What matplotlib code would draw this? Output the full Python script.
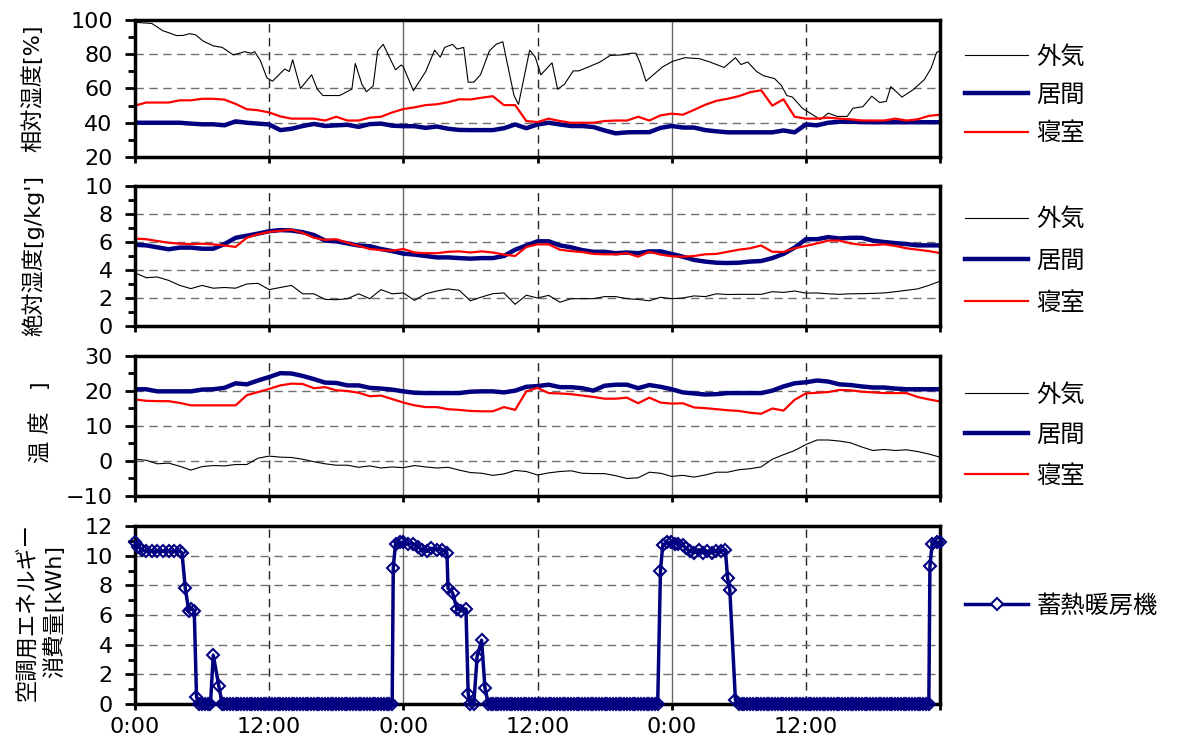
import matplotlib
matplotlib.use("Agg")
import matplotlib.pyplot as plt
import numpy as np
from matplotlib.ticker import MultipleLocator
from matplotlib.lines import Line2D

plt.rcParams['font.family'] = ['DejaVu Sans', 'Noto Sans CJK JP']

# hourly samples: 0:00 day 1 .. 0:00 day 4
hours = np.arange(0, 73)

# --- relative humidity [%] ---
# outdoor RH read at irregular times (it is spiky)
rh_out_h = [0.0, 0.3, 1.5, 2.5, 3.1, 3.7, 4.3, 4.9, 5.4, 6.1,
            7.0, 7.8, 8.8, 9.8, 10.4, 10.7, 11.2, 11.8, 12.3, 13.4,
            13.8, 14.1, 14.8, 15.8, 16.3, 16.8, 18.3, 19.4, 19.7, 20.3,
            20.7, 21.3, 21.7, 22.2, 23.3, 23.8, 24.0, 24.9, 26.0, 26.8,
            27.3, 27.7, 28.4, 28.8, 29.4, 29.8, 30.3, 30.9, 31.7, 32.3,
            32.9, 33.3, 33.9, 34.3, 35.3, 35.8, 36.3, 37.3, 37.8, 38.4,
            39.2, 39.7, 40.6, 41.6, 42.5, 43.5, 44.4, 44.8, 45.2, 45.7,
            47.2, 48.1, 49.2, 50.5, 51.4, 52.7, 53.7, 54.2, 54.8, 55.6,
            56.2, 57.2, 57.8, 58.3, 58.8, 59.7, 61.3, 62.0, 62.8, 63.7,
            64.2, 65.1, 65.9, 66.6, 67.2, 67.6, 68.6, 69.6, 70.6, 71.2,
            71.7, 72.0]
rh_out = [99, 98.5, 98, 93.7, 92.4, 90.9, 91, 92, 91.4, 87.7,
          84.9, 84, 79.6, 81.5, 80.6, 81.5, 76.5, 66.2, 64.3, 71.4,
          69.9, 76.8, 60, 68, 59.6, 55.9, 55.9, 59.6, 74.6, 62.4,
          58.1, 61.5, 82, 85.8, 70.9, 73.7, 72.7, 58.7, 69.9, 82.4,
          78.3, 84, 85.8, 83, 84, 63.7, 63.7, 68, 82, 85.8,
          87.3, 74.6, 55.9, 50.7, 82.4, 78.3, 68, 75, 59.6, 62.4,
          70.3, 70.3, 72.7, 75.5, 79.3, 79.6, 80.6, 80.6, 74.6, 64.3,
          72.7, 75.9, 78, 77.4, 75.5, 72.3, 78, 74, 75.5, 69.9,
          67.5, 65.8, 61.9, 55.9, 55, 48.4, 41.9, 45.6, 43.7, 43.7,
          48.4, 49.4, 55.5, 51.8, 52.5, 61.1, 55, 59.3, 65.2, 71.8,
          81.1, 82]
rh_liv = [40, 40, 40, 40, 40, 39.5, 39.1, 39.1, 38.5, 40.8, 40, 39.5,
          39, 35.7, 36.5, 38.1, 39.3, 38.1, 38.5, 38.8, 37.6, 39.2, 39.5, 38.3,
          38, 38, 37, 37.8, 36.5, 35.8, 35.7, 35.7, 35.7, 36.8, 39, 36.8,
          39, 40, 39, 38.1, 38.1, 37.5, 35.5, 33.8, 34.4, 34.5, 34.5, 37,
          38.1, 37.2, 37.2, 35.7, 35, 34.4, 34.4, 34.4, 34.4, 34.4, 35.5, 34.4,
          39, 38.5, 40, 40.6, 40.6, 40.4, 40.3, 40.3, 40.3, 40.3, 40.3, 40.3,
          40.3]
rh_bed = [50, 51.8, 51.8, 51.8, 53.1, 53.1, 54, 54, 53.5, 51, 47.9, 47.3,
          46, 43.7, 42.4, 42.4, 42.4, 41.3, 43.5, 41.3, 41.3, 43, 43.5, 46,
          48, 49, 50.3, 50.8, 52, 53.7, 53.6, 54.6, 55.5, 50.3, 50.3, 41,
          40.4, 42.4, 41, 40, 40, 40, 41, 41.3, 41.3, 43.5, 41.3, 44.3,
          45.3, 44.7, 47.5, 50.5, 52.8, 54, 55.5, 57.8, 59, 50, 53.7, 43.5,
          42.4, 42.4, 43, 42.4, 42, 41.3, 41.3, 41.3, 42.4, 41.3, 42, 44,
          44.7]

# --- absolute humidity [g/kg'] ---
ah_out = [3.8, 3.45, 3.5, 3.26, 2.9, 2.67, 2.9, 2.7, 2.75, 2.7, 3.0, 3.05,
          2.6, 2.75, 2.9, 2.3, 2.3, 1.9, 1.88, 1.95, 2.3, 1.95, 2.6, 2.3,
          2.36, 1.83, 2.3, 2.5, 2.65, 2.55, 1.8, 2.07, 2.31, 2.36, 1.55, 2.2,
          2.0, 2.19, 1.7, 1.95, 1.95, 1.95, 2.1, 2.1, 1.95, 1.9, 1.8, 2.05,
          1.95, 2.0, 2.15, 2.1, 2.3, 2.25, 2.26, 2.26, 2.26, 2.45, 2.4, 2.5,
          2.35, 2.36, 2.3, 2.26, 2.3, 2.31, 2.33, 2.36, 2.45, 2.55, 2.65, 2.9,
          3.2]
ah_liv = [5.8, 5.76, 5.62, 5.48, 5.6, 5.6, 5.52, 5.52, 5.85, 6.3, 6.45, 6.6,
          6.77, 6.85, 6.82, 6.7, 6.5, 6.1, 6.05, 5.9, 5.75, 5.7, 5.5, 5.35,
          5.17, 5.1, 5.0, 4.9, 4.9, 4.85, 4.81, 4.85, 4.85, 5.0, 5.45, 5.75,
          6.05, 6.05, 5.76, 5.62, 5.42, 5.3, 5.3, 5.2, 5.25, 5.2, 5.33, 5.33,
          5.15, 4.95, 4.72, 4.6, 4.52, 4.5, 4.52, 4.6, 4.64, 4.85, 5.15, 5.6,
          6.2, 6.2, 6.35, 6.25, 6.3, 6.3, 6.1, 6.0, 5.92, 5.85, 5.76, 5.76,
          5.76]
ah_bed = [6.24, 6.2, 6.07, 5.95, 5.88, 5.85, 5.88, 5.83, 5.75, 5.65, 6.3, 6.55,
          6.72, 6.8, 6.88, 6.65, 6.3, 6.15, 6.2, 5.95, 5.72, 5.5, 5.42, 5.38,
          5.5, 5.25, 5.2, 5.2, 5.3, 5.33, 5.25, 5.33, 5.25, 5.1, 5.0, 5.65,
          5.83, 5.83, 5.45, 5.35, 5.28, 5.15, 5.12, 5.12, 5.2, 4.95, 5.3, 5.1,
          4.98, 4.95, 5.0, 5.12, 5.15, 5.3, 5.45, 5.55, 5.75, 5.3, 5.29, 5.55,
          5.72, 5.9, 6.1, 6.1, 5.9, 5.8, 5.78, 5.83, 5.72, 5.55, 5.45, 5.35,
          5.21]

# --- temperature ---
t_out = [0.5, 0.2, -0.8, -0.6, -1.5, -2.6, -1.6, -1.3, -1.4, -1.0, -1.0, 0.8,
         1.4, 1.1, 1.0, 0.5, -0.2, -0.8, -1.2, -1.2, -1.8, -1.4, -2.0, -1.7,
         -1.9, -1.3, -1.7, -2.0, -1.8, -2.6, -3.3, -3.5, -4.1, -3.7, -2.7, -3.0,
         -4.0, -3.4, -3.0, -2.8, -3.5, -3.6, -3.6, -4.2, -5.0, -4.8, -3.2, -3.5,
         -4.4, -4.1, -4.6, -4.0, -3.2, -3.2, -2.5, -2.2, -1.7, 0.5, 1.8, 3.0,
         4.7, 6.0, 6.0, 5.7, 5.2, 4.0, 3.0, 3.3, 3.0, 3.2, 2.7, 2.0,
         1.1]
t_liv = [20.5, 20.5, 19.9, 19.9, 19.9, 19.9, 20.4, 20.5, 20.9, 22.2, 21.9, 23.0,
         24.0, 25.1, 25.0, 24.3, 23.4, 22.4, 22.3, 21.6, 21.6, 20.9, 20.7, 20.4,
         19.9, 19.5, 19.4, 19.4, 19.4, 19.4, 19.8, 19.9, 19.9, 19.6, 20.1, 21.2,
         21.4, 21.8, 21.1, 21.1, 20.8, 20.1, 21.5, 21.8, 21.8, 20.8, 21.7, 21.2,
         20.5, 19.6, 19.3, 19.0, 19.1, 19.4, 19.4, 19.4, 19.4, 20.1, 21.3, 22.2,
         22.5, 23.0, 22.7, 21.9, 21.7, 21.3, 21.0, 21.0, 20.7, 20.5, 20.5, 20.5,
         20.5]
t_bed = [17.6, 17.2, 17.1, 17.1, 16.6, 15.9, 15.9, 15.9, 15.9, 15.9, 18.8, 19.7,
         20.6, 21.6, 22.1, 22.0, 20.8, 21.1, 20.2, 20.0, 19.5, 18.5, 18.7, 17.7,
         16.7, 15.9, 15.4, 15.4, 14.8, 14.6, 14.3, 14.2, 14.2, 15.4, 14.6, 19.9,
         20.9, 19.4, 19.3, 19.1, 18.7, 18.3, 17.8, 17.8, 18.1, 16.5, 18.1, 16.7,
         16.4, 16.5, 15.3, 15.1, 14.8, 14.5, 14.3, 13.8, 13.5, 15.0, 14.4, 17.5,
         19.3, 19.5, 19.7, 20.3, 20.2, 19.8, 19.6, 19.4, 19.4, 19.4, 18.3, 17.6,
         17.0]

# --- storage heater energy [kWh], 15 min logging while off ---
energy_h = [0.0, 0.3, 0.6, 1.0, 1.5, 2.0, 2.5, 3.0, 3.5, 4.0, 4.2, 4.5,
            4.8, 5.0, 5.3, 5.5, 5.7, 6.0, 6.25, 6.5, 6.75, 7.0, 7.5, 7.8,
            8.0, 8.25, 8.5, 8.75, 9.0, 9.25, 9.5, 9.75, 10.0, 10.25, 10.5, 10.75,
            11.0, 11.25, 11.5, 11.75, 12.0, 12.25, 12.5, 12.75, 13.0, 13.25, 13.5, 13.75,
            14.0, 14.25, 14.5, 14.75, 15.0, 15.25, 15.5, 15.75, 16.0, 16.25, 16.5, 16.75,
            17.0, 17.25, 17.5, 17.75, 18.0, 18.25, 18.5, 18.75, 19.0, 19.25, 19.5, 19.75,
            20.0, 20.25, 20.5, 20.75, 21.0, 21.25, 21.5, 21.75, 22.0, 22.25, 22.5, 22.75,
            23.0, 23.1, 23.3, 23.7, 24.0, 24.4, 24.9, 25.3, 25.7, 26.1, 26.5, 27.0,
            27.5, 27.9, 28.0, 28.4, 28.8, 29.2, 29.6, 29.8, 30.0, 30.3, 30.6, 31.0,
            31.3, 31.6, 31.8, 32.0, 32.25, 32.5, 32.75, 33.0, 33.25, 33.5, 33.75, 34.0,
            34.25, 34.5, 34.75, 35.0, 35.25, 35.5, 35.75, 36.0, 36.25, 36.5, 36.75, 37.0,
            37.25, 37.5, 37.75, 38.0, 38.25, 38.5, 38.75, 39.0, 39.25, 39.5, 39.75, 40.0,
            40.25, 40.5, 40.75, 41.0, 41.25, 41.5, 41.75, 42.0, 42.25, 42.5, 42.75, 43.0,
            43.25, 43.5, 43.75, 44.0, 44.25, 44.5, 44.75, 45.0, 45.25, 45.5, 45.75, 46.0,
            46.25, 46.5, 46.75, 47.0, 47.2, 47.6, 47.9, 48.3, 48.6, 49.0, 49.3, 49.6,
            50.0, 50.4, 50.8, 51.2, 51.6, 52.0, 52.4, 52.8, 53.0, 53.2, 53.7, 54.0,
            54.25, 54.5, 54.75, 55.0, 55.25, 55.5, 55.75, 56.0, 56.25, 56.5, 56.75, 57.0,
            57.25, 57.5, 57.75, 58.0, 58.25, 58.5, 58.75, 59.0, 59.25, 59.5, 59.75, 60.0,
            60.25, 60.5, 60.75, 61.0, 61.25, 61.5, 61.75, 62.0, 62.25, 62.5, 62.75, 63.0,
            63.25, 63.5, 63.75, 64.0, 64.25, 64.5, 64.75, 65.0, 65.25, 65.5, 65.75, 66.0,
            66.25, 66.5, 66.75, 67.0, 67.25, 67.5, 67.75, 68.0, 68.25, 68.5, 68.75, 69.0,
            69.25, 69.5, 69.75, 70.0, 70.25, 70.5, 70.75, 71.0, 71.1, 71.3, 71.7, 72.0]
energy_kwh = [10.9, 10.6, 10.4, 10.3, 10.3, 10.3, 10.3, 10.3, 10.3, 10.3, 10.2, 7.8,
              6.3, 6.4, 6.3, 0.5, 0, 0, 0, 0, 0, 3.3, 1.2, 0,
              0, 0, 0, 0, 0, 0, 0, 0, 0, 0, 0, 0,
              0, 0, 0, 0, 0, 0, 0, 0, 0, 0, 0, 0,
              0, 0, 0, 0, 0, 0, 0, 0, 0, 0, 0, 0,
              0, 0, 0, 0, 0, 0, 0, 0, 0, 0, 0, 0,
              0, 0, 0, 0, 0, 0, 0, 0, 0, 0, 0, 0,
              0, 9.2, 10.8, 10.9, 10.9, 10.8, 10.8, 10.6, 10.4, 10.3, 10.5, 10.4,
              10.4, 10.2, 7.8, 7.5, 6.4, 6.3, 6.4, 0.7, 0, 0, 3.2, 4.3,
              1.1, 0, 0, 0, 0, 0, 0, 0, 0, 0, 0, 0,
              0, 0, 0, 0, 0, 0, 0, 0, 0, 0, 0, 0,
              0, 0, 0, 0, 0, 0, 0, 0, 0, 0, 0, 0,
              0, 0, 0, 0, 0, 0, 0, 0, 0, 0, 0, 0,
              0, 0, 0, 0, 0, 0, 0, 0, 0, 0, 0, 0,
              0, 0, 0, 9.0, 10.7, 10.9, 10.9, 10.8, 10.8, 10.7, 10.5, 10.3,
              10.2, 10.4, 10.2, 10.3, 10.2, 10.3, 10.3, 10.4, 8.5, 7.7, 0.3, 0,
              0, 0, 0, 0, 0, 0, 0, 0, 0, 0, 0, 0,
              0, 0, 0, 0, 0, 0, 0, 0, 0, 0, 0, 0,
              0, 0, 0, 0, 0, 0, 0, 0, 0, 0, 0, 0,
              0, 0, 0, 0, 0, 0, 0, 0, 0, 0, 0, 0,
              0, 0, 0, 0, 0, 0, 0, 0, 0, 0, 0, 0,
              0, 0, 0, 0, 0, 0, 0, 0, 9.3, 10.8, 10.9, 10.9]

xtick_labels = ['0:00', '12:00', '0:00', '12:00', '0:00', '12:00', '']
names = ['外気', '居間', '寝室']

NAVY = '#000080'
RED = '#ff0000'

fig = plt.figure(figsize=(11.77, 7.49), dpi=100)


def panel(top, bottom):
    # frame given in pixel rows of the picture
    return fig.add_axes([135 / 1177, 1 - bottom / 749, 805 / 1177, (bottom - top) / 749])


def dress(ax, lo, hi, step, minor, bottom_labels=False):
    ax.set_xlim(0, 72)
    ax.set_ylim(lo, hi)
    ax.xaxis.set_major_locator(MultipleLocator(12))
    ax.yaxis.set_major_locator(MultipleLocator(step))
    ax.yaxis.set_minor_locator(MultipleLocator(minor))
    ax.tick_params(axis='y', which='major', direction='out', length=7, width=2,
                   labelsize=16, pad=9)
    ax.tick_params(axis='y', which='minor', direction='out', length=5, width=2)
    ax.tick_params(axis='x', which='major', direction='out', length=4.5, width=2,
                   labelsize=16, pad=5, labelbottom=bottom_labels)
    if bottom_labels:
        ax.set_xticks(np.arange(0, 73, 12))
        ax.set_xticklabels(xtick_labels)
    for s in ax.spines.values():
        s.set_linewidth(2.5)
    ax.yaxis.grid(True, color='#707070', lw=1, ls=(0, (6, 4)), zorder=0)
    for x in (12, 36, 60):
        ax.axvline(x, color='#222222', lw=1, ls=(0, (6, 4)), zorder=0)
    for x in (24, 48):
        ax.axvline(x, color='#666666', lw=1, zorder=0)


def side_legend(ax, yc, spacing, handles=None):
    kw = dict(loc='center left', bbox_to_anchor=(965 / 1177, 1 - yc / 749),
              bbox_transform=fig.transFigure, frameon=False, fontsize=17.5,
              handlelength=2.6, handletextpad=0.33, labelspacing=spacing,
              borderpad=0, borderaxespad=0, numpoints=1)
    if handles is None:
        ax.legend(**kw)
    else:
        ax.legend(handles=handles, **kw)


ax1 = panel(20, 157)
ax2 = panel(186, 326)
ax3 = panel(356, 496)
ax4 = panel(526, 704)

# relative humidity
ax1.plot(rh_out_h, rh_out, color='black', lw=0.8, label=names[0])
ax1.plot(hours, rh_liv, color=NAVY, lw=3.2, label=names[1])
ax1.plot(hours, rh_bed, color=RED, lw=1.6, label=names[2])
dress(ax1, 20, 100, 20, 10)
side_legend(ax1, 95, 0.58)

# absolute humidity
ax2.plot(hours, ah_out, color='black', lw=0.8, label=names[0])
ax2.plot(hours, ah_liv, color=NAVY, lw=3.2, label=names[1])
ax2.plot(hours, ah_bed, color=RED, lw=1.6, label=names[2])
dress(ax2, 0, 10, 2, 1)
side_legend(ax2, 261, 0.74)

# temperature
ax3.plot(hours, t_out, color='black', lw=0.8, label=names[0])
ax3.plot(hours, t_liv, color=NAVY, lw=3.2, label=names[1])
ax3.plot(hours, t_bed, color=RED, lw=1.6, label=names[2])
dress(ax3, -10, 30, 10, 5)
side_legend(ax3, 435, 0.68)

# heater energy
ax4.plot(energy_h, energy_kwh, color=NAVY, lw=2.5, marker='D', ms=6.5,
         mfc='none', mec=NAVY, mew=1.5, clip_on=False, zorder=3)
dress(ax4, 0, 12, 2, 1, bottom_labels=True)
heater = Line2D([], [], color=NAVY, lw=2.5, marker='D', ms=6.5, mfc='white',
                mec=NAVY, mew=1.5, label='蓄熱暖房機')
side_legend(ax4, 606, 0.5, handles=[heater])

# axis titles
fig.text(33 / 1177, 1 - 88 / 749, '相対湿度[%]', rotation=90, ha='center', va='center', fontsize=16)
fig.text(33 / 1177, 1 - 256 / 749, "絶対湿度[g/kg']", rotation=90, ha='center', va='center', fontsize=16)
fig.text(40 / 1177, 1 - 422 / 749, '温 度   ]', rotation=90, ha='center', va='center', fontsize=16)
fig.text(41 / 1177, 1 - 612 / 749, '空調用エネルギー\n消費量[kWh]', rotation=90, ha='center',
         va='center', multialignment='center', linespacing=1.25, fontsize=16)

fig.savefig('out.png', dpi=100)
